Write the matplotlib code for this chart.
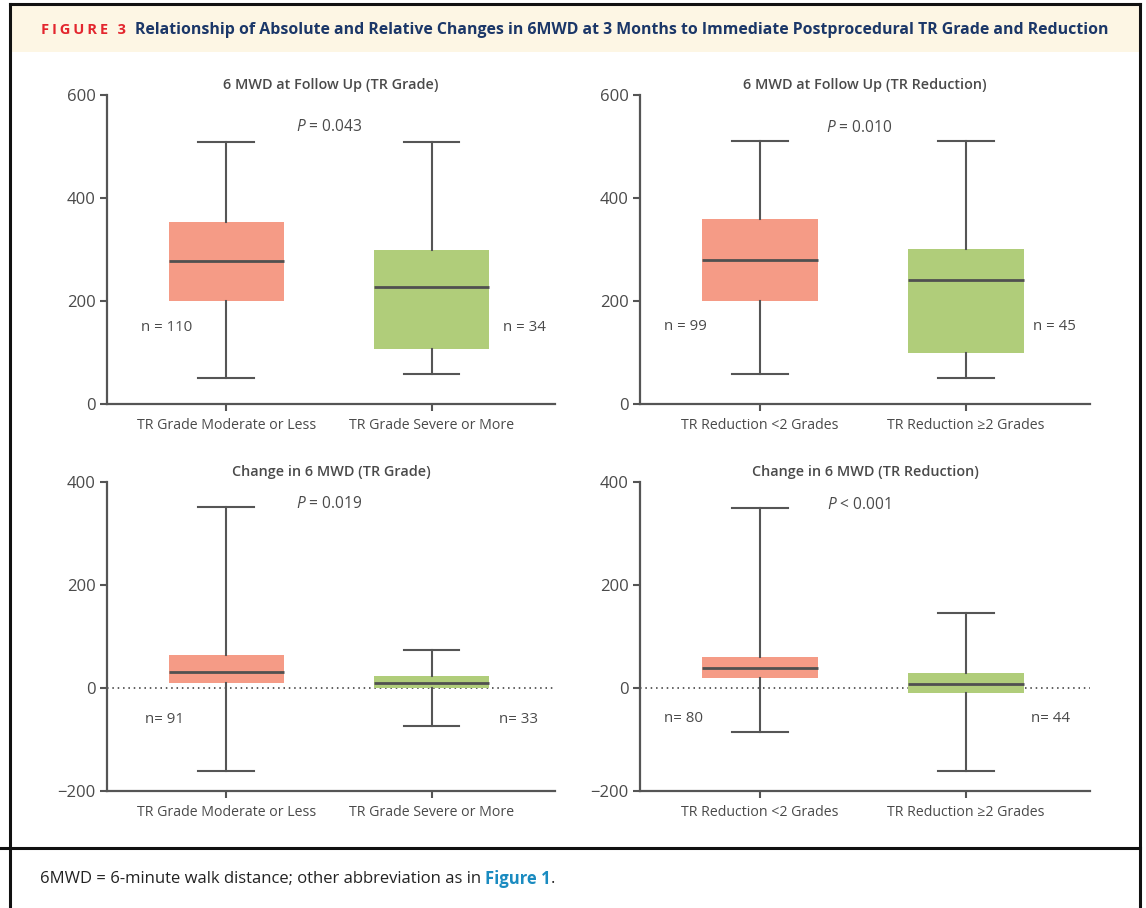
import matplotlib.pyplot as plt
from matplotlib.patches import Rectangle

plt.rcParams['font.family'] = ['Open Sans', 'DejaVu Sans']
plt.rcParams['mathtext.fontset'] = 'custom'
plt.rcParams['mathtext.it'] = 'Open Sans:italic'
plt.rcParams['mathtext.rm'] = 'Open Sans'

W, H = 1146, 908

# categories
grade_labels = ['TR Grade Moderate or Less', 'TR Grade Severe or More']
reduction_labels = ['TR Reduction <2 Grades', 'TR Reduction \u22652 Grades']

# 6MWD at follow up, TR grade
fu_grade_lo = [50, 59]
fu_grade_q1 = [200, 107]
fu_grade_med = [277, 228]
fu_grade_q3 = [354, 300]
fu_grade_hi = [509, 509]
fu_grade_n = ['n = 110', 'n = 34']

# 6MWD at follow up, TR reduction
fu_red_lo = [58, 50]
fu_red_q1 = [200, 100]
fu_red_med = [280, 240]
fu_red_q3 = [359, 301]
fu_red_hi = [510, 510]
fu_red_n = ['n = 99', 'n = 45']

# change in 6MWD, TR grade
ch_grade_lo = [-161, -74]
ch_grade_q1 = [10, 0]
ch_grade_med = [32, 9]
ch_grade_q3 = [64, 23]
ch_grade_hi = [351, 74]
ch_grade_n = ['n= 91', 'n= 33']

# change in 6MWD, TR reduction
ch_red_lo = [-86, -162]
ch_red_q1 = [19, -9]
ch_red_med = [39, 8]
ch_red_q3 = [60, 29]
ch_red_hi = [350, 146]
ch_red_n = ['n= 80', 'n= 44']

box_colors = ['#F59B86', '#B0CD7A']
line_col = '#555555'
text_col = '#4a4a4a'

fig = plt.figure(figsize=(W / 100, H / 100), dpi=100)

# background axes in pixel coordinates for the frame, header and footer
bg = fig.add_axes([0, 0, 1, 1], zorder=-1)
bg.set_xlim(0, W)
bg.set_ylim(H, 0)
bg.axis('off')
bg.add_patch(Rectangle((10, 4), 1130, 48, facecolor='#FDF6E4', edgecolor='none'))
bg.plot([10, 1140], [4, 4], color='#111111', lw=2.2, solid_capstyle='projecting')
bg.plot([10, 10], [4, H], color='#111111', lw=2.2)
bg.plot([1140, 1140], [4, H], color='#111111', lw=2.2)
bg.plot([0, 1140], [848, 848], color='#111111', lw=2.2)

bg.text(41, 30, '\u2009'.join('FIGURE 3'), color='#E3262E', fontsize=10.5,
        weight='bold', va='center')
bg.text(135, 30, 'Relationship of Absolute and Relative Changes in 6MWD at 3 Months to '
        'Immediate Postprocedural TR Grade and Reduction',
        color='#1B3768', fontsize=11.4, weight='bold', va='center')

t1 = bg.text(40, 879, '6MWD = 6-minute walk distance; other abbreviation as in',
             color='#222222', fontsize=12, va='center')
t2 = bg.annotate('Figure 1', xy=(1, 0.5), xycoords=t1, xytext=(3, 0),
                 textcoords='offset points', va='center', ha='left',
                 color='#1A8BC0', fontsize=12, weight='bold')
bg.annotate('.', xy=(1, 0.5), xycoords=t2, va='center', ha='left',
            color='#222222', fontsize=12)


def panel(rect, title, labels, lo, q1, med, q3, hi, nlab, n_x, n_y,
          ptxt, p_x, p_y, ylim, yticks, zero_line=False):
    ax = fig.add_axes(rect)
    ax.patch.set_alpha(0)
    stats = []
    for i in range(2):
        stats.append(dict(med=med[i], q1=q1[i], q3=q3[i],
                          whislo=lo[i], whishi=hi[i], fliers=[]))
    bp = ax.bxp(stats, positions=[0, 1], widths=0.56, capwidths=0.27,
                patch_artist=True, showfliers=False,
                boxprops=dict(edgecolor='none', linewidth=0),
                whiskerprops=dict(color=line_col, linewidth=1.5),
                capprops=dict(color=line_col, linewidth=1.5),
                medianprops=dict(color='#505050', linewidth=2))
    for patch, c in zip(bp['boxes'], box_colors):
        patch.set_facecolor(c)
    if zero_line:
        ax.axhline(0, color='#333333', lw=1.1, ls=(0, (1, 2.5)), zorder=0)
    ax.set_xlim(-0.58, 1.6)
    ax.set_ylim(*ylim)
    ax.set_yticks(yticks)
    ax.set_xticks([0, 1])
    ax.set_xticklabels(labels)
    for s in ['top', 'right']:
        ax.spines[s].set_visible(False)
    for s in ['left', 'bottom']:
        ax.spines[s].set_color(line_col)
        ax.spines[s].set_linewidth(1.6)
    ax.tick_params(axis='both', length=5, width=1.5, color=line_col,
                   labelcolor=text_col)
    ax.tick_params(axis='y', labelsize=12, pad=3)
    ax.tick_params(axis='x', labelsize=10.2, pad=5)
    ax.text(0.5, 1.032, title, transform=ax.transAxes, ha='center', va='center',
            fontsize=10.4, weight='semibold', color=text_col)
    ax.text(p_x, p_y, ptxt, ha='center', va='center', fontsize=11.2,
            color=text_col)
    for i in range(2):
        ax.text(n_x[i], n_y, nlab[i], ha='center', va='center', fontsize=10.8,
                color=text_col)
    return ax


top_b = 1 - 404 / H
bot_b = 1 - 791 / H
ph = 309 / H
lx, lw_ = 107 / W, 448 / W
rx, rw = 640 / W, 450 / W

panel([lx, top_b, lw_, ph], '6 MWD at Follow Up (TR Grade)', grade_labels,
      fu_grade_lo, fu_grade_q1, fu_grade_med, fu_grade_q3, fu_grade_hi,
      fu_grade_n, [-0.29, 1.45], 148, '$P$ = 0.043', 0.5, 537,
      (0, 600), [0, 200, 400, 600])
panel([rx, top_b, rw, ph], '6 MWD at Follow Up (TR Reduction)', reduction_labels,
      fu_red_lo, fu_red_q1, fu_red_med, fu_red_q3, fu_red_hi,
      fu_red_n, [-0.36, 1.43], 150, '$P$ = 0.010', 0.48, 535,
      (0, 600), [0, 200, 400, 600])
panel([lx, bot_b, lw_, ph], 'Change in 6 MWD (TR Grade)', grade_labels,
      ch_grade_lo, ch_grade_q1, ch_grade_med, ch_grade_q3, ch_grade_hi,
      ch_grade_n, [-0.30, 1.42], -62, '$P$ = 0.019', 0.5, 357,
      (-200, 400), [-200, 0, 200, 400], zero_line=True)
panel([rx, bot_b, rw, ph], 'Change in 6 MWD (TR Reduction)', reduction_labels,
      ch_red_lo, ch_red_q1, ch_red_med, ch_red_q3, ch_red_hi,
      ch_red_n, [-0.37, 1.41], -60, '$P$ < 0.001', 0.48, 355,
      (-200, 400), [-200, 0, 200, 400], zero_line=True)

fig.savefig('out.png', dpi=100)
